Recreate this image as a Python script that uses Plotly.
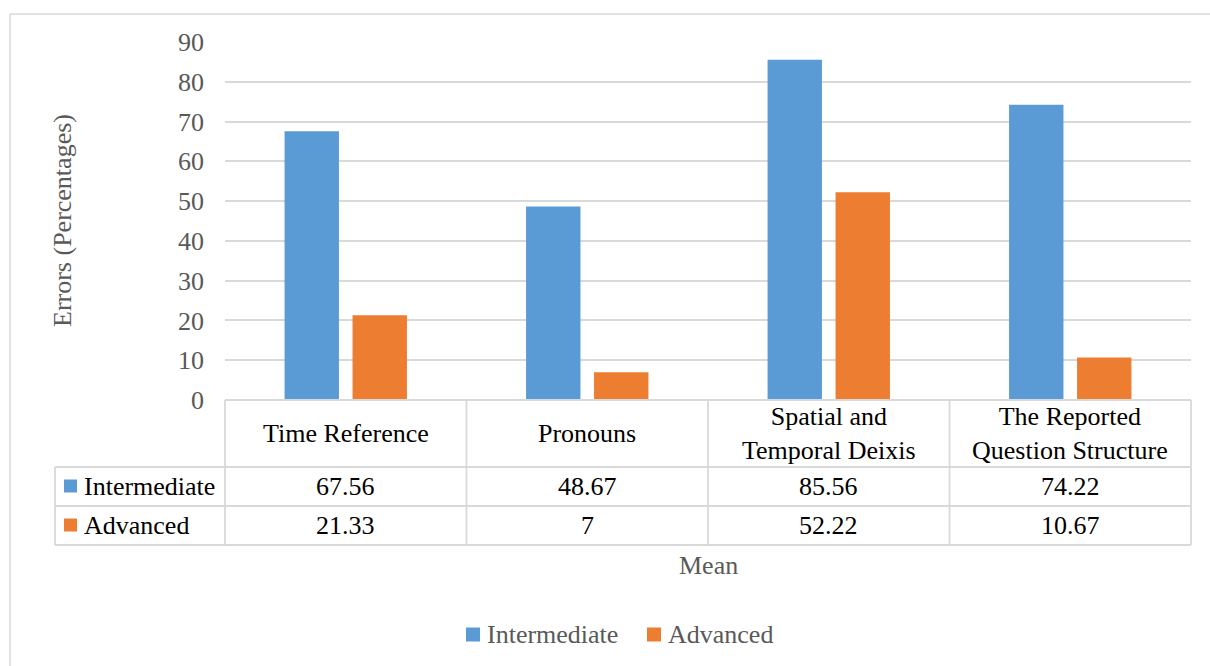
import plotly.graph_objects as go

categories = ["Time Reference", "Pronouns", "Spatial and Temporal Deixis", "The Reported Question Structure"]
header_labels = ["Time Reference", "Pronouns", "Spatial and<br>Temporal Deixis", "The Reported<br>Question Structure"]
intermediate = [67.56, 48.67, 85.56, 74.22]
advanced = [21.33, 7, 52.22, 10.67]
series_names = ["Intermediate", "Advanced"]
colors = ["#5B9BD5", "#ED7D31"]
y_ticks = [0, 10, 20, 30, 40, 50, 60, 70, 80, 90]

W, H = 1210, 666
FONT = "Liberation Serif, Times New Roman, serif"
GRID = "#d9d9d9"


def px(x):
    return x / W


def py(y):
    return 1 - y / H


fig = go.Figure()
for name, vals, col in zip(series_names, [intermediate, advanced], colors):
    fig.add_trace(go.Bar(x=categories, y=vals, name=name, marker=dict(color=col, line=dict(width=0))))

x0, x1 = 225, 1191
col_w = (x1 - x0) / len(categories)
col_edges = [x0 + i * col_w for i in range(len(categories) + 1)]
y_top_tbl, y_r1, y_r2, y_bot = 400, 467, 506, 545
left_tbl = 55

shapes = []
# outer chart border
shapes.append(dict(type="rect", xref="paper", yref="paper", x0=px(10), x1=px(1215), y0=py(14), y1=py(672),
                   line=dict(color=GRID, width=1.5), fillcolor="rgba(0,0,0,0)"))
# table lines
line_style = dict(color=GRID, width=1.8)
shapes.append(dict(type="line", xref="paper", yref="paper", x0=px(x0), x1=px(x1), y0=py(y_top_tbl), y1=py(y_top_tbl), line=line_style))
for yy in [y_r1, y_r2, y_bot]:
    shapes.append(dict(type="line", xref="paper", yref="paper", x0=px(left_tbl), x1=px(x1), y0=py(yy), y1=py(yy), line=line_style))
for xx in col_edges:
    shapes.append(dict(type="line", xref="paper", yref="paper", x0=px(xx), x1=px(xx), y0=py(y_top_tbl), y1=py(y_bot), line=line_style))
shapes.append(dict(type="line", xref="paper", yref="paper", x0=px(left_tbl), x1=px(left_tbl), y0=py(y_r1), y1=py(y_bot), line=line_style))

annotations = []
row_centers = [(y_r1 + y_r2) / 2, (y_r2 + y_bot) / 2]
for i, lab in enumerate(header_labels):
    cx = (col_edges[i] + col_edges[i + 1]) / 2
    annotations.append(dict(text=lab, x=px(cx), y=py((y_top_tbl + y_r1) / 2), xref="paper", yref="paper",
                            showarrow=False, xanchor="center", yanchor="middle",
                            font=dict(family=FONT, size=26, color="#000000")))
for r, (name, vals, col) in enumerate(zip(series_names, [intermediate, advanced], colors)):
    cy = row_centers[r]
    shapes.append(dict(type="rect", xref="paper", yref="paper", x0=px(64), x1=px(77), y0=py(cy - 7), y1=py(cy + 6),
                       line=dict(width=0), fillcolor=col))
    annotations.append(dict(text=name, x=px(82), y=py(cy), xref="paper", yref="paper", showarrow=False,
                            xanchor="left", yanchor="middle", font=dict(family=FONT, size=26, color="#000000")))
    for i, v in enumerate(vals):
        cx = (col_edges[i] + col_edges[i + 1]) / 2
        annotations.append(dict(text=f"{v:g}", x=px(cx), y=py(cy), xref="paper", yref="paper", showarrow=False,
                                xanchor="center", yanchor="middle",
                                font=dict(family=FONT, size=26, color="#000000")))

# legend (drawn manually to match the original spacing)
legend_x = [466, 647]
legend_cy = 634.5
for name, col, lx in zip(series_names, colors, legend_x):
    shapes.append(dict(type="rect", xref="paper", yref="paper", x0=px(lx), x1=px(lx + 14),
                       y0=py(legend_cy - 7), y1=py(legend_cy + 7), line=dict(width=0), fillcolor=col))
    annotations.append(dict(text=name, x=px(lx + 19), y=py(legend_cy), xref="paper", yref="paper", showarrow=False,
                            xanchor="left", yanchor="middle", font=dict(family=FONT, size=26, color="#595959")))

# axis titles
annotations.append(dict(text="Mean", x=px(708), y=py(565), xref="paper", yref="paper", showarrow=False,
                        xanchor="center", yanchor="middle", font=dict(family=FONT, size=26, color="#595959")))
annotations.append(dict(text="Errors (Percentages)", x=px(62), y=py(221), xref="paper", yref="paper", showarrow=False,
                        textangle=-90, xanchor="center", yanchor="middle",
                        font=dict(family=FONT, size=26, color="#595959")))

fig.update_layout(
    width=W, height=H, autosize=False,
    margin=dict(l=0, r=0, t=0, b=0, pad=0, autoexpand=False),
    paper_bgcolor="white", plot_bgcolor="white",
    barmode="group", bargap=0.437, bargroupgap=0.2,
    shapes=shapes, annotations=annotations,
    showlegend=False,
    xaxis=dict(domain=[px(x0), px(x1)], showticklabels=False, showgrid=False, zeroline=False, showline=False,
               automargin=False),
    yaxis=dict(domain=[py(400), py(42)], range=[0, 90], tickvals=y_ticks, showgrid=True, gridcolor=GRID,
               gridwidth=1.5, zeroline=False, showline=False, ticklabelstandoff=20, automargin=False,
               tickfont=dict(family=FONT, size=26, color="#595959")),
)

fig.write_html("out.html", config={"displayModeBar": False},
               post_script="document.body.style.margin='0';document.body.style.overflow='hidden';")
